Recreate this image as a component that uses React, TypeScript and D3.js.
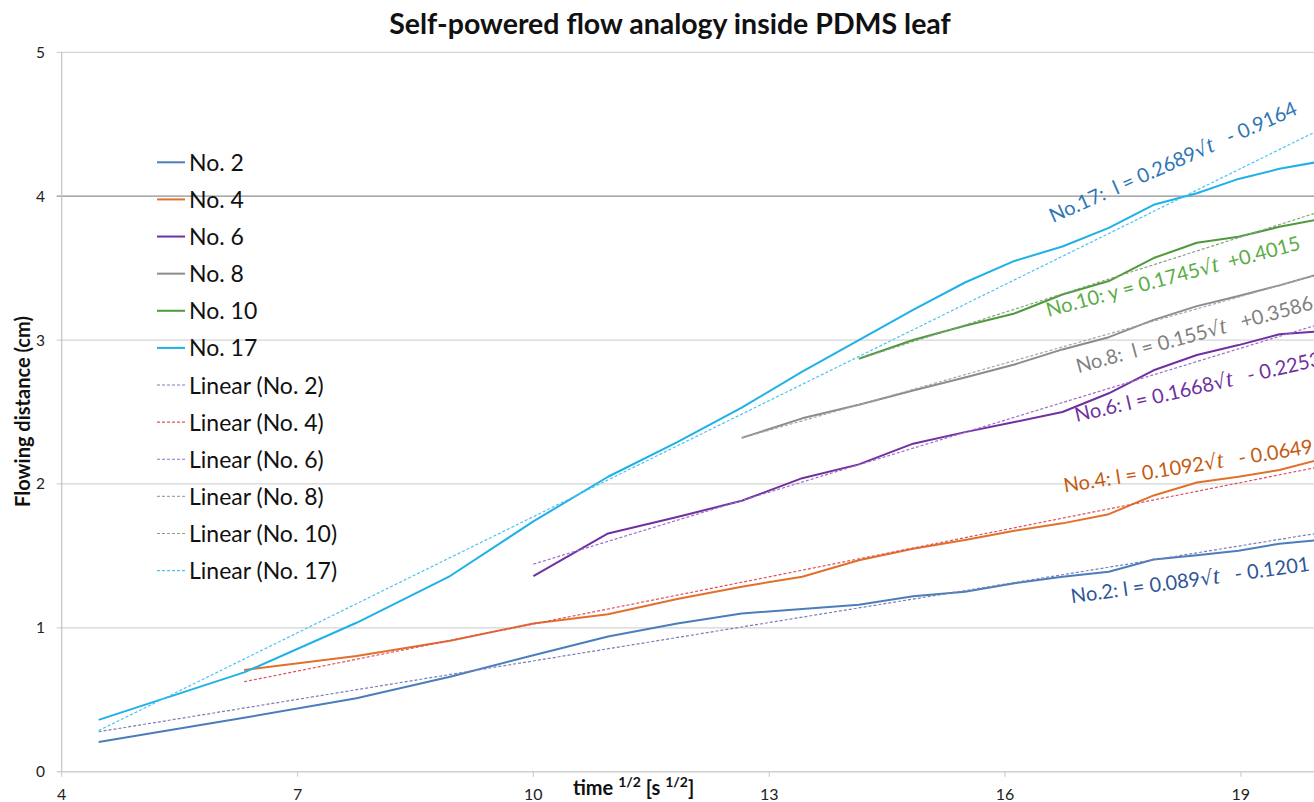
import React, { useEffect, useRef } from 'react';
import * as d3 from 'd3';

const W = 1314;
const H = 802;

// x values are sqrt(t) for t = 20, 40, ... 400 s
const sqrtTime = [4.47, 6.32, 7.75, 8.94, 10, 10.95, 11.83, 12.65, 13.42, 14.14, 14.83, 15.49, 16.12, 16.73, 17.32, 17.89, 18.44, 18.97, 19.49, 20];

const no2 = [0.206, 0.375, 0.51, 0.66, 0.81, 0.94, 1.03, 1.10, 1.13, 1.16, 1.22, 1.25, 1.31, 1.355, 1.39, 1.475, 1.505, 1.535, 1.585, 1.61];
const no4 = [null, 0.707, 0.804, 0.91, 1.03, 1.094, 1.20, 1.286, 1.355, 1.47, 1.55, 1.61, 1.675, 1.726, 1.79, 1.92, 2.01, 2.05, 2.097, 2.17];
const no6 = [null, null, null, null, 1.36, 1.656, 1.77, 1.883, 2.04, 2.136, 2.28, 2.36, 2.43, 2.50, 2.63, 2.79, 2.896, 2.965, 3.04, 3.06];
const no8 = [null, null, null, null, null, null, null, 2.32, 2.456, 2.55, 2.65, 2.74, 2.83, 2.935, 3.02, 3.14, 3.236, 3.306, 3.38, 3.46];
const no10 = [null, null, null, null, null, null, null, null, null, 2.87, 3.0, 3.10, 3.185, 3.317, 3.41, 3.57, 3.676, 3.718, 3.787, 3.84];
const no17 = [0.36, 0.69, 1.035, 1.36, 1.74, 2.05, 2.29, 2.53, 2.78, 3.0, 3.21, 3.40, 3.55, 3.65, 3.78, 3.94, 4.02, 4.12, 4.19, 4.24];

const seriesNames = ['No. 2', 'No. 4', 'No. 6', 'No. 8', 'No. 10', 'No. 17'];
const seriesValues = [no2, no4, no6, no8, no10, no17];
const seriesColors = ['#4a7ebb', '#e0702a', '#7030a0', '#8c8c8c', '#4e9a3a', '#1fb0e8'];
const trendColors = ['#7a7fb5', '#e0505a', '#9b6cc8', '#a9a0b8', '#88a080', '#4dc3ee'];

// linear fits l = a * sqrt(t) + b
const slopes = [0.089, 0.1092, 0.1668, 0.155, 0.1745, 0.2689];
const intercepts = [-0.1201, -0.0649, -0.2253, 0.3586, 0.4015, -0.9164];

const eqBefore = ['No.2: l = 0.089', 'No.4: l = 0.1092', 'No.6: l = 0.1668', 'No.8:  l = 0.155', 'No.10: y = 0.1745', 'No.17:  l = 0.2689'];
const eqAfter = ['   - 0.1201', '   - 0.0649', '   - 0.2253', '   +0.3586', '  +0.4015', '   - 0.9164'];
const eqColors = ['#2f5597', '#c55a11', '#7030a0', '#7f7f7f', '#5aac44', '#2e75b6'];
const eqX = [16.85, 16.76, 16.91, 16.93, 16.55, 16.61];
const eqY = [1.17, 1.94, 2.43, 2.77, 3.16, 3.813];
const eqAngle = [7.8, 9, 13, 15.2, 15, 24];

const xTicks = [4, 7, 10, 13, 16, 19];
const yTicks = [0, 1, 2, 3, 4, 5];

const FONT = "Lato, 'Open Sans', sans-serif";

export default function App() {
  const svgRef = useRef<SVGSVGElement>(null);

  useEffect(() => {
    document.body.style.margin = '0';
    const svg = d3.select(svgRef.current);
    svg.selectAll('*').remove();

    const x = d3.scaleLinear().domain([4, 19.93]).range([61.7, 1314]);
    const y = d3.scaleLinear().domain([0, 5]).range([771.7, 52.3]);

    svg.append('rect').attr('width', W).attr('height', H).attr('fill', '#fff');

    // title
    svg.append('text')
      .attr('x', 670).attr('y', 34)
      .attr('text-anchor', 'middle')
      .style('font-family', FONT).style('font-weight', 700).style('font-size', '28.5px')
      .attr('fill', '#111')
      .text('Self-powered flow analogy inside PDMS leaf');

    // gridlines
    yTicks.filter(v => v > 0).forEach(v => {
      svg.append('line')
        .attr('x1', x(4) - 5).attr('x2', W)
        .attr('y1', y(v)).attr('y2', y(v))
        .attr('stroke', v === 4 ? '#8f8f8f' : '#d4d4d4')
        .attr('stroke-width', 1.2);
    });

    // axes
    svg.append('line')
      .attr('x1', x(4)).attr('x2', x(4)).attr('y1', y(0)).attr('y2', y(5))
      .attr('stroke', '#c4c4c4').attr('stroke-width', 1.2);
    svg.append('line')
      .attr('x1', x(4) - 5).attr('x2', W).attr('y1', y(0)).attr('y2', y(0))
      .attr('stroke', '#d0d0d0').attr('stroke-width', 1.5);
    xTicks.forEach(v => {
      svg.append('line')
        .attr('x1', x(v)).attr('x2', x(v)).attr('y1', y(0)).attr('y2', y(0) + 5)
        .attr('stroke', '#d0d0d0').attr('stroke-width', 1.2);
      svg.append('text')
        .attr('x', x(v)).attr('y', 800)
        .attr('text-anchor', 'middle')
        .style('font-family', FONT).style('font-size', '16px')
        .attr('fill', '#222')
        .text(v);
    });
    yTicks.forEach(v => {
      svg.append('text')
        .attr('x', 45).attr('y', y(v) + 5.5)
        .attr('text-anchor', 'end')
        .style('font-family', FONT).style('font-size', '15.5px')
        .attr('fill', '#222')
        .text(v);
    });

    // axis titles
    svg.append('text')
      .attr('transform', `translate(30,411.5) rotate(-90)`)
      .attr('text-anchor', 'middle')
      .style('font-family', FONT).style('font-weight', 700).style('font-size', '20px')
      .attr('fill', '#111')
      .text('Flowing distance (cm)');

    const xt = svg.append('text')
      .attr('x', 573).attr('y', 795)
      .style('font-family', FONT).style('font-weight', 700).style('font-size', '20px')
      .style('white-space', 'pre')
      .attr('fill', '#111');
    xt.append('tspan').text('time ');
    xt.append('tspan').attr('dy', -8).style('font-size', '14px').text('1/2');
    xt.append('tspan').attr('dy', 8).text(' [s ');
    xt.append('tspan').attr('dy', -8).style('font-size', '14px').text('1/2');
    xt.append('tspan').attr('dy', 8).text(']');

    // series
    const line = d3.line<number | null>()
      .defined(d => d !== null)
      .x((_, i) => x(sqrtTime[i]))
      .y(d => y(d as number));

    seriesValues.forEach((vals, k) => {
      svg.append('path')
        .attr('d', line(vals))
        .attr('fill', 'none')
        .attr('stroke', seriesColors[k])
        .attr('stroke-width', 2)
        .attr('stroke-linejoin', 'round');
    });

    // trendlines
    seriesValues.forEach((vals, k) => {
      const first = vals.findIndex(v => v !== null);
      const xs = [sqrtTime[first], sqrtTime[sqrtTime.length - 1]];
      const pts = xs.map(t => [x(t), y(slopes[k] * t + intercepts[k])] as [number, number]);
      svg.append('path')
        .attr('d', d3.line()(pts))
        .attr('fill', 'none')
        .attr('stroke', trendColors[k])
        .attr('stroke-width', 1.2)
        .attr('stroke-dasharray', '3,2');
    });

    // equation labels
    eqBefore.forEach((txt, k) => {
      const t = svg.append('text')
        .attr('transform', `translate(${x(eqX[k])},${y(eqY[k])}) rotate(${-eqAngle[k]})`)
        .style('font-family', FONT).style('font-size', '20px')
        .style('white-space', 'pre')
        .attr('fill', eqColors[k]);
      t.append('tspan').text(txt);
      t.append('tspan').style('font-family', "'DejaVu Sans', sans-serif").style('font-size', '20px').text('\u221A');
      t.append('tspan').style('font-family', "'Liberation Serif', serif").style('font-style', 'italic').style('font-size', '24px').text('t');
      t.append('tspan').text(eqAfter[k]);
    });

    // legend
    const legendNames = [...seriesNames, ...seriesNames.map(n => `Linear (${n})`)];
    const rowY = d3.scaleLinear().domain([0, 11]).range([162.3, 570.6]);
    legendNames.forEach((name, i) => {
      const isTrend = i >= 6;
      const k = i % 6;
      svg.append('line')
        .attr('x1', 157).attr('x2', 185)
        .attr('y1', rowY(i)).attr('y2', rowY(i))
        .attr('stroke', isTrend ? trendColors[k] : seriesColors[k])
        .attr('stroke-width', isTrend ? 1.2 : 2)
        .attr('stroke-dasharray', isTrend ? '3,2' : null);
      svg.append('text')
        .attr('x', 189).attr('y', rowY(i) + 8.5)
        .style('font-family', FONT).style('font-size', '23px')
        .attr('fill', '#111')
        .text(name);
    });
  }, []);

  return <svg ref={svgRef} width={W} height={H} style={{ display: 'block' }} />;
}
